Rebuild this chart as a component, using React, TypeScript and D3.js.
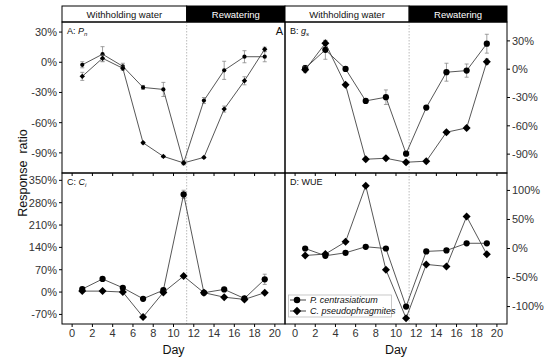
import React from "react";
import * as d3 from "d3";

const days = [1, 3, 5, 7, 9, 11, 13, 15, 17, 19];

// A: Pn
const pnPc = [-2.5, 8, -4, -25, -27, -100, -38, -8, 5.5, 5.5];
const pnPcErr = [3, 7.5, 3, 2, 7, 2, 3, 9, 6, 5];
const pnCp = [-14, 4, -6, -80, -93.5, -100, -94.5, -46.5, -18.4, 13];
const pnCpErr = [4, 3, 2, 1, 1, 1, 1, 3, 4, 2];
// B: gs
const gsPc = [1, 20.5, 0.3, -33.6, -29.7, -89.5, -40.7, -3.2, -1.5, 27];
const gsPcErr = [3, 10, 2, 2, 7.7, 2, 2, 9.5, 7, 10];
const gsCp = [-0.7, 27.5, -16.6, -95.4, -94.4, -98.6, -97.5, -66.8, -62.2, 8];
const gsCpErr = [3, 3, 2, 2, 2, 2, 2, 2, 2, 3];
// C: Ci
const ciPc = [9.4, 41, 13.5, -21, 6, 306, -2, 8.4, -20, 40];
const ciPcErr = [5, 4, 4, 3, 4, 13, 3, 4, 4, 16];
const ciCp = [3, 3, 0, -78, -1, 50, -2, -16, -23, -2];
const ciCpErr = [3, 3, 3, 3, 3, 4, 3, 3, 3, 3];
// D: WUE
const wuePc = [0, -12.5, -7.4, 3, 0, -100, -5, -3.4, 9, 9];
const wueCp = [-12, -9.6, 11.5, 108, -36.5, -120, -27.4, -30.8, 55, -10];

const xTicks = [0, 2, 4, 6, 8, 10, 12, 14, 16, 18, 20];
const pnTicks = [30, 0, -30, -60, -90];
const gsTicks = [30, 0, -30, -60, -90];
const ciTicks = [350, 280, 210, 140, 70, 0, -70];
const wueTicks = [100, 50, 0, -50, -100];
const stageDay = 11.3;

const font = "'Liberation Sans', Arial, sans-serif";

type Series = { values: number[]; err?: number[]; shape: "circle" | "diamond" };

const Marker = ({ x, y, shape, size }: { x: number; y: number; shape: string; size: number }) =>
  shape === "circle" ? (
    <circle cx={x} cy={y} r={size * 0.78} fill="#000" />
  ) : (
    <path d={`M${x},${y - size}L${x + size},${y}L${x},${y + size}L${x - size},${y}Z`} fill="#000" />
  );

type PanelProps = {
  x0: number;
  x1: number;
  y0: number;
  y1: number;
  domain: [number, number];
  ticks: number[];
  side: "left" | "right";
  series: Series[];
  label: React.ReactNode;
  xLabels: boolean;
  size: number;
};

const Panel = ({ x0, x1, y0, y1, domain, ticks, side, series, label, xLabels, size }: PanelProps) => {
  const x = d3.scaleLinear().domain([-1, 21]).range([x0, x1]);
  const y = d3.scaleLinear().domain(domain).range([y1, y0]);
  const line = d3
    .line<number>()
    .x((_, i) => x(days[i]))
    .y((d) => y(d));
  const ax = side === "left" ? x0 : x1;
  const dir = side === "left" ? -1 : 1;
  return (
    <g>
      <line x1={x(stageDay)} x2={x(stageDay)} y1={y0} y2={y1} stroke="#aaa" strokeWidth={0.8} strokeDasharray="1.5,1.5" />
      {series.map((s, k) => (
        <g key={k}>
          {s.err &&
            s.values.map((v, i) => (
              <g key={i} stroke="#888" strokeWidth={0.8}>
                <line x1={x(days[i])} x2={x(days[i])} y1={y(v - s.err![i])} y2={y(v + s.err![i])} />
                <line x1={x(days[i]) - 2} x2={x(days[i]) + 2} y1={y(v + s.err![i])} y2={y(v + s.err![i])} />
                <line x1={x(days[i]) - 2} x2={x(days[i]) + 2} y1={y(v - s.err![i])} y2={y(v - s.err![i])} />
              </g>
            ))}
          <path d={line(s.values) || ""} fill="none" stroke="#444" strokeWidth={0.9} />
          {s.values.map((v, i) => (
            <Marker key={i} x={x(days[i])} y={y(v)} shape={s.shape} size={size} />
          ))}
        </g>
      ))}
      <rect x={x0} y={y0} width={x1 - x0} height={y1 - y0} fill="none" stroke="#000" strokeWidth={1} />
      {ticks.map((t) => (
        <g key={t}>
          <line x1={ax} x2={ax + dir * 3} y1={y(t)} y2={y(t)} stroke="#000" />
          <text
            x={ax + dir * 5}
            y={y(t)}
            dy="0.35em"
            textAnchor={side === "left" ? "end" : "start"}
            fontSize={11}
            fontFamily={font}
            fill="#333"
          >
            {`${t}%`}
          </text>
        </g>
      ))}
      {xTicks.map((t) => (
        <g key={t}>
          <line x1={x(t)} x2={x(t)} y1={y1} y2={y1 + 3} stroke="#000" />
          {xLabels && (
            <text x={x(t)} y={y1 + 13} textAnchor="middle" fontSize={11} fontFamily={font} fill="#333">
              {t}
            </text>
          )}
        </g>
      ))}
      {xLabels && (
        <text x={(x0 + x1) / 2} y={y1 + 30} textAnchor="middle" fontSize={12.5} fontFamily={font} fill="#111">
          Day
        </text>
      )}
      <g transform={`translate(${x0 + 5},${y0 + 12})`}>{label}</g>
    </g>
  );
};

const Header = ({ x0, x1 }: { x0: number; x1: number }) => {
  const x = d3.scaleLinear().domain([-1, 21]).range([x0, x1]);
  const mid = x(stageDay);
  return (
    <g fontFamily={font} fontSize={9.5}>
      <rect x={x0} y={6} width={mid - x0} height={16} fill="#fff" stroke="#000" />
      <rect x={mid} y={6} width={x1 - mid} height={16} fill="#000" stroke="#000" />
      <text x={(x0 + mid) / 2} y={17.5} textAnchor="middle" fill="#111">
        Withholding water
      </text>
      <text x={(mid + x1) / 2} y={17.5} textAnchor="middle" fill="#fff">
        Rewatering
      </text>
    </g>
  );
};

const PanelLabel = ({ prefix, main, sub }: { prefix: string; main?: string; sub?: string }) => (
  <text fontSize={9} fontFamily={font} fill="#111">
    {prefix}
    {main && <tspan fontStyle="italic">{main}</tspan>}
    {sub && (
      <tspan fontStyle="italic" fontSize={6} dy={2}>
        {sub}
      </tspan>
    )}
  </text>
);

export default function App() {
  const L0 = 62;
  const M = 285;
  const R1 = 507;
  const T0 = 22;
  const MID = 173;
  const B1 = 324;
  return (
    <div style={{ position: "absolute", left: 0, top: 0 }}>
      <svg width={550} height={360} style={{ display: "block", background: "#fff" }}>
        <Header x0={L0} x1={M} />
        <Header x0={M} x1={R1} />
        <Panel
          x0={L0} x1={M} y0={T0} y1={MID}
          domain={[-110, 40]} ticks={pnTicks} side="left" xLabels={false} size={2.7}
          series={[
            { values: pnPc, err: pnPcErr, shape: "circle" },
            { values: pnCp, err: pnCpErr, shape: "diamond" },
          ]}
          label={<PanelLabel prefix="A: " main="P" sub="n" />}
        />
        <Panel
          x0={M} x1={R1} y0={T0} y1={MID}
          domain={[-110, 50]} ticks={gsTicks} side="right" xLabels={false} size={4}
          series={[
            { values: gsPc, err: gsPcErr, shape: "circle" },
            { values: gsCp, err: gsCpErr, shape: "diamond" },
          ]}
          label={<PanelLabel prefix="B: " main="g" sub="s" />}
        />
        <Panel
          x0={L0} x1={M} y0={MID} y1={B1}
          domain={[-100, 373]} ticks={ciTicks} side="left" xLabels={true} size={4}
          series={[
            { values: ciPc, err: ciPcErr, shape: "circle" },
            { values: ciCp, err: ciCpErr, shape: "diamond" },
          ]}
          label={<PanelLabel prefix="C: " main="C" sub="i" />}
        />
        <Panel
          x0={M} x1={R1} y0={MID} y1={B1}
          domain={[-130, 130]} ticks={wueTicks} side="right" xLabels={true} size={4}
          series={[
            { values: wuePc, shape: "circle" },
            { values: wueCp, shape: "diamond" },
          ]}
          label={<PanelLabel prefix="D: WUE" />}
        />
        <text x={283} y={35} textAnchor="end" fontSize={11} fontFamily={font} fill="#111">
          A
        </text>
        <text
          transform="translate(27,173) rotate(-90)"
          textAnchor="middle"
          fontSize={12.5}
          fontFamily={font}
          fill="#111"
          style={{ whiteSpace: "pre" }}
        >
          {"Response  ratio"}
        </text>
        {/* legend */}
        <g fontFamily={font} fontSize={9} fontStyle="italic">
          <rect x={288.5} y={295} width={103} height={22} fill="#fff" stroke="#bbb" strokeWidth={0.8} />
          <line x1={290} x2={306} y1={300} y2={300} stroke="#444" />
          <Marker x={297} y={300} shape="circle" size={4.2} />
          <text x={310} y={303} fill="#111">
            P. centrasiaticum
          </text>
          <line x1={290} x2={306} y1={311} y2={311} stroke="#444" />
          <Marker x={297} y={311} shape="diamond" size={4.2} />
          <text x={310} y={314} fill="#111">
            C. pseudophragmites
          </text>
        </g>
      </svg>
    </div>
  );
}
